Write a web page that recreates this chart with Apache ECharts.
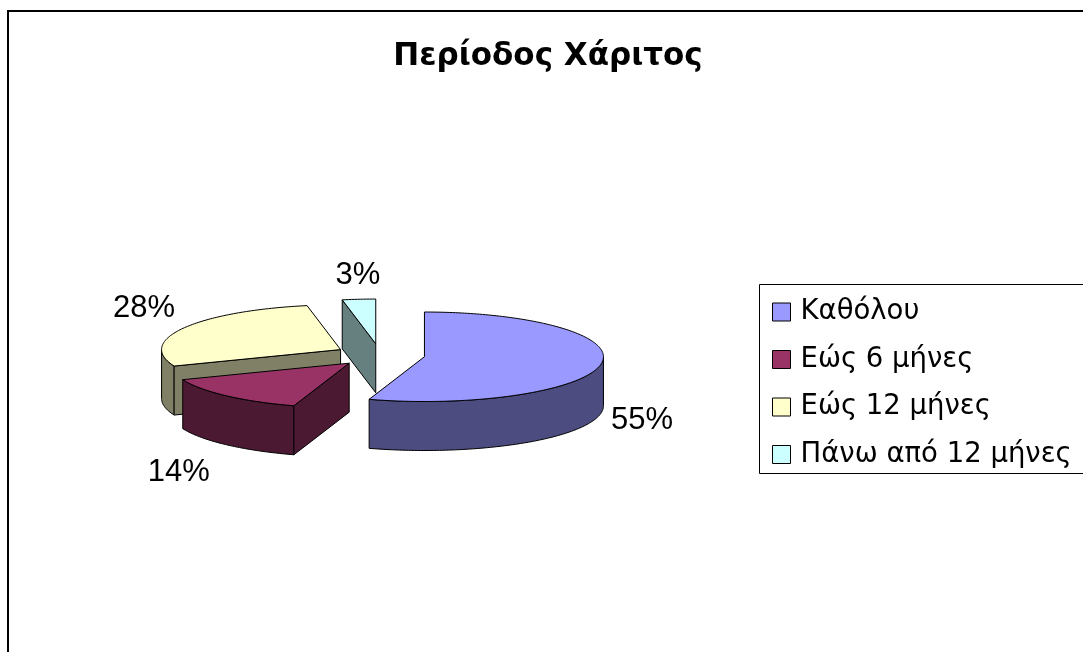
<!DOCTYPE html>
<html>
<head>
<meta charset="utf-8">
<script src="https://cdn.jsdelivr.net/npm/echarts@6/dist/echarts.min.js"></script>
<style>
html,body{margin:0;padding:0;background:#fff;}
#chart{width:1083px;height:652px;}
</style>
</head>
<body>
<div id="chart"></div>
<script>
// ---- data ----
const titleText = 'Περίοδος Χάριτος';
const categories = ['Καθόλου', 'Εώς 6 μήνες', 'Εώς 12 μήνες', 'Πάνω από 12 μήνες'];
const values = [55, 14, 28, 3];
const topColors = ['#9999FF', '#993366', '#FFFFCC', '#CCFFFF'];
const sideColors = ['#4C4C80', '#4C1933', '#808066', '#668080'];

// ---- 3D pie geometry (layout, not data) ----
const CX = 380, CY = 355, RX = 179, K = 0.25, DEPTH = 49, EXPLODE = 45;
const LABEL_GX = 10, LABEL_GY = 8, LABEL_FRONT = 6;
const total = values.reduce((a, b) => a + b, 0);
const D2R = Math.PI / 180;

function startAngle(i) {
  let s = 0;
  for (let j = 0; j < i; j++) s += values[j];
  return s / total * 360;
}

function makeRender(i) {
  return function (params, api) {
    const v = api.value(0);
    const a0 = startAngle(i);
    const a1 = a0 + v / total * 360;
    const m = (a0 + a1) / 2;
    const cx = CX + EXPLODE * Math.sin(m * D2R);
    const cy = CY - EXPLODE * K * Math.cos(m * D2R);
    const pt = (a, h) => [cx + RX * Math.sin(a * D2R), cy - RX * K * Math.cos(a * D2R) + h];
    const children = [];
    const st = (fill) => ({ fill: fill, stroke: '#000', lineWidth: 1, lineJoin: 'round' });
    // outer curved side (front half only: 90..270)
    const s0 = Math.max(a0, 90), s1 = Math.min(a1, 270);
    if (s1 > s0) {
      const topPts = [], botPts = [];
      const n = Math.max(2, Math.ceil(s1 - s0));
      for (let k = 0; k <= n; k++) {
        const a = s0 + (s1 - s0) * k / n;
        topPts.push(pt(a, 0));
        botPts.push(pt(a, DEPTH));
      }
      children.push({ type: 'polygon', shape: { points: topPts.concat(botPts.reverse()) }, style: st(sideColors[i]) });
    }
    // radial faces
    if (Math.sin(a0 * D2R) < -1e-6) {
      const p = pt(a0, 0), q = pt(a0, DEPTH);
      children.push({ type: 'polygon', shape: { points: [[cx, cy], p, q, [cx, cy + DEPTH]] }, style: st(sideColors[i]) });
    }
    if (Math.sin(a1 * D2R) > 1e-6) {
      const p = pt(a1, 0), q = pt(a1, DEPTH);
      children.push({ type: 'polygon', shape: { points: [[cx, cy], p, q, [cx, cy + DEPTH]] }, style: st(sideColors[i]) });
    }
    // top face
    const face = [[cx, cy]];
    const n2 = Math.max(2, Math.ceil(a1 - a0));
    for (let k = 0; k <= n2; k++) face.push(pt(a0 + (a1 - a0) * k / n2, 0));
    children.push({ type: 'polygon', shape: { points: face }, style: st(topColors[i]) });
    // label
    const sm = Math.sin(m * D2R), cm = Math.cos(m * D2R);
    const front = -cm > 0;
    const lx = cx + (RX + LABEL_GX) * sm + (front && sm < 0 ? -LABEL_GX : 0);
    const ly = cy - (RX * K + LABEL_GY) * cm + (front ? DEPTH + LABEL_FRONT : 0);
    children.push({
      type: 'text',
      style: {
        text: Math.round(v / total * 100) + '%',
        x: lx, y: ly,
        align: sm > 0.3 ? 'left' : (sm < -0.3 ? 'right' : 'center'),
        verticalAlign: -cm > 0.3 ? 'top' : (-cm < -0.3 ? 'bottom' : 'middle'),
        fontSize: 31, fontFamily: 'Liberation Sans', fill: '#000'
      }
    });
    return { type: 'group', children: children };
  };
}

// depth order (back slices first)
const depthKey = values.map((v, i) => {
  const m = startAngle(i) + v / total * 180;
  return -Math.cos(m * D2R);
});

const series = categories.map((name, i) => ({
  type: 'custom',
  name: name,
  coordinateSystem: 'none',
  z: 2 + depthKey.filter(d => d < depthKey[i]).length,
  itemStyle: { color: topColors[i] },
  data: [[values[i]]],
  renderItem: makeRender(i),
  silent: true,
  animation: false
}));

const chart = echarts.init(document.getElementById('chart'));
chart.setOption({
  backgroundColor: '#fff',
  animation: false,
  graphic: [
    { type: 'rect', z: 0, shape: { x: 8, y: 11, width: 1200, height: 800 }, style: { fill: 'none', stroke: '#000', lineWidth: 2 } },
    { type: 'rect', z: 0, shape: { x: 759.5, y: 284.5, width: 400, height: 189 }, style: { fill: '#fff', stroke: '#000', lineWidth: 1 } },
    { type: 'text', z: 5, style: { text: titleText, x: 548, y: 57, align: 'center', verticalAlign: 'middle', fontSize: 31, fontWeight: 'bold', fontFamily: 'DejaVu Sans', fill: '#000' } }
  ],
  legend: {
    orient: 'vertical',
    left: 772,
    top: 297,
    padding: 0,
    data: categories,
    icon: 'rect',
    itemWidth: 18,
    itemHeight: 18,
    itemGap: 17.5,
    itemStyle: { borderColor: '#000', borderWidth: 1 },
    textStyle: { fontSize: 27.5, fontFamily: 'DejaVu Sans', color: '#000', lineHeight: 30, padding: [0, 0, 0, 5] },
    selectedMode: false,
    z: 10
  },
  series: series
});
</script>
</body>
</html>
